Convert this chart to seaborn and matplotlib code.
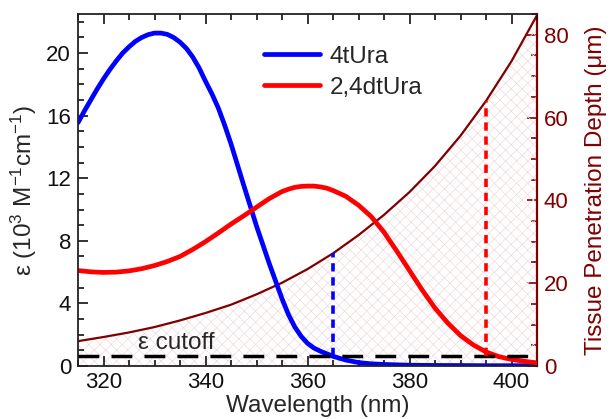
import numpy as np
import pandas as pd
import matplotlib
matplotlib.use("Agg")
import matplotlib.pyplot as plt
from matplotlib.ticker import MultipleLocator
import seaborn as sns

# Absorption spectra (extinction coefficient, 10^3 M^-1 cm^-1)
wl_4tura = [315, 316.25, 317.5, 318.75, 320, 321.25, 322.5, 323.75, 325, 326.25,
            327.5, 328.75, 330, 331.25, 332.5, 333.75, 335, 336.25, 337.5, 338.75,
            340, 341.25, 342.5, 343.75, 345, 347.5, 350, 352.5, 355, 356.25,
            357.5, 358.75, 360, 361.25, 362.5, 365, 367.5, 370, 372.5, 375,
            380, 385, 390, 395, 405]
eps_4tura = [15.55, 16.3, 17.0, 17.7, 18.35, 18.95, 19.5, 20.0, 20.4, 20.75,
             21.0, 21.18, 21.28, 21.28, 21.2, 21.0, 20.7, 20.3, 19.75, 19.05,
             18.2, 17.4, 16.5, 15.4, 14.2, 11.55, 8.95, 6.55, 4.3, 3.3,
             2.5, 1.9, 1.45, 1.15, 0.95, 0.62, 0.38, 0.22, 0.14, 0.10,
             0.05, 0.035, 0.03, 0.02, 0.02]

wl_24dtura = [315, 317.5, 320, 322.5, 325, 327.5, 330, 332.5, 335, 337.5, 340,
              342.5, 345, 347.5, 350, 352.5, 355, 356.25, 357.5, 358.75, 360,
              361.25, 362.5, 363.75, 365, 367.5, 370, 372.5, 375, 377.5, 380,
              382.5, 385, 387.5, 390, 392.5, 395, 397.5, 400, 402.5, 405]
eps_24dtura = [6.1, 6.02, 5.98, 6.0, 6.08, 6.22, 6.42, 6.68, 7.0, 7.45, 7.95,
               8.5, 9.07, 9.6, 10.15, 10.7, 11.15, 11.3, 11.42, 11.48, 11.5,
               11.5, 11.45, 11.37, 11.22, 10.85, 10.28, 9.55, 8.55, 7.35, 6.1,
               4.85, 3.7, 2.75, 1.95, 1.35, 0.9, 0.6, 0.42, 0.3, 0.2]

# Tissue penetration depth (um), 5 nm steps
wl_depth = [315, 320, 325, 330, 335, 340, 345, 350, 355, 360, 365, 370, 375,
            380, 385, 390, 395, 400, 405]
depth_um = [6.0, 7.0, 8.1, 9.4, 11.0, 12.8, 14.8, 17.3, 20.1, 23.4, 27.2, 31.6,
            36.5, 42.0, 48.3, 55.6, 64.0, 73.6, 84.7]

eps_cutoff = 0.65
cutoff_wl = {"4tUra": 365, "2,4dtUra": 395}
series_colors = {"4tUra": "#0000ff", "2,4dtUra": "#ff0000"}
depth_color = "#800000"

x_ticks = [320, 340, 360, 380, 400]
eps_ticks = [0, 4, 8, 12, 16, 20]
depth_ticks = [0, 20, 40, 60, 80]
x_lim = (315, 405)
eps_lim = (0, 22.5)
depth_lim = (0, 85)

abs_df = pd.DataFrame({
    "wavelength": wl_4tura + wl_24dtura,
    "eps": eps_4tura + eps_24dtura,
    "compound": ["4tUra"] * len(wl_4tura) + ["2,4dtUra"] * len(wl_24dtura),
})
depth_df = pd.DataFrame({"wavelength": wl_depth, "depth": depth_um})

sns.set_style("ticks")
plt.rcParams["font.family"] = ["Liberation Sans", "DejaVu Sans"]
plt.rcParams["hatch.linewidth"] = 0.5
plt.rcParams["mathtext.fontset"] = "custom"
plt.rcParams["mathtext.rm"] = "Liberation Sans"
plt.rcParams["mathtext.it"] = "Liberation Sans"

tick_fs = 16
label_fs = 17.5

fig = plt.figure(figsize=(6.13, 4.19), dpi=100)
ax = fig.add_axes([78 / 613, 1 - 366 / 419, 459 / 613, 352 / 419])
ax2 = ax.twinx()
ax.set_zorder(ax2.get_zorder() + 1)
ax.patch.set_visible(False)

# Penetration depth on the right axis with hatched area beneath it
ax2.fill_between(depth_df["wavelength"], 0, depth_df["depth"], facecolor="none",
                 edgecolor="#f0dadd", hatch="xxx", linewidth=0)
sns.lineplot(data=depth_df, x="wavelength", y="depth", ax=ax2, color=depth_color,
             linewidth=1.6, legend=False)

# Absorption spectra
sns.lineplot(data=abs_df, x="wavelength", y="eps", hue="compound",
             hue_order=["4tUra", "2,4dtUra"], palette=series_colors,
             linewidth=3.4, ax=ax)

# Cutoff line and vertical markers up to the penetration depth curve
ax.axhline(eps_cutoff, color="black", linewidth=2.5, dashes=(6, 3.5), zorder=3)
for name, wl in cutoff_wl.items():
    top = np.interp(wl, wl_depth, depth_um) * (eps_lim[1] / depth_lim[1])
    ax.vlines(wl, eps_cutoff, top, color=series_colors[name], linewidth=2.6,
              linestyles=(0, (2.3, 1.6)), zorder=3)
ax.text(334.3, 1.5, "\u03b5 cutoff", fontsize=label_fs, ha="center", va="center")

ax.set_xlim(*x_lim)
ax.set_ylim(*eps_lim)
ax2.set_ylim(*depth_lim)
ax.set_xticks(x_ticks)
ax.set_yticks(eps_ticks)
ax2.set_yticks(depth_ticks)
ax.xaxis.set_minor_locator(MultipleLocator(5))
ax.yaxis.set_minor_locator(MultipleLocator(1))
ax2.yaxis.set_minor_locator(MultipleLocator(5))

ax.tick_params(axis="both", which="both", direction="in", labelsize=tick_fs,
               colors="#111111", width=1.2)
ax.tick_params(axis="x", which="both", top=True, bottom=True)
ax.tick_params(axis="y", which="both", right=False)
ax.tick_params(which="major", length=7)
ax.tick_params(which="minor", length=4)
ax.tick_params(axis="y", pad=5)
ax.tick_params(axis="x", pad=4)
ax2.tick_params(axis="y", which="both", direction="in", colors=depth_color,
                labelsize=tick_fs, width=1.2, pad=5)
ax2.tick_params(axis="y", which="major", length=7)
ax2.tick_params(axis="y", which="minor", length=4)

for side in ["left", "top", "bottom"]:
    ax.spines[side].set_linewidth(1.3)
    ax.spines[side].set_color("#222222")
ax2.spines["right"].set_color(depth_color)
ax2.spines["right"].set_linewidth(1.6)
ax.spines["right"].set_visible(False)
for side in ["left", "top", "bottom"]:
    ax2.spines[side].set_visible(False)

ax.set_xlabel("Wavelength (nm)", fontsize=label_fs, labelpad=2, x=0.522)
ax.set_ylabel("\u03b5 (10$^3$ M$^{-1}$cm$^{-1}$)", fontsize=label_fs, labelpad=5)
ax2.set_ylabel("Tissue Penetration Depth (\u03bcm)", fontsize=label_fs,
               color=depth_color, labelpad=12)

ax.legend(loc="upper left", bbox_to_anchor=(0.405, 0.91), frameon=False,
          fontsize=label_fs, handlelength=2.3, handletextpad=0.4, labelspacing=0.37,
          borderpad=0, borderaxespad=0)

fig.savefig("out.png", dpi=100)
